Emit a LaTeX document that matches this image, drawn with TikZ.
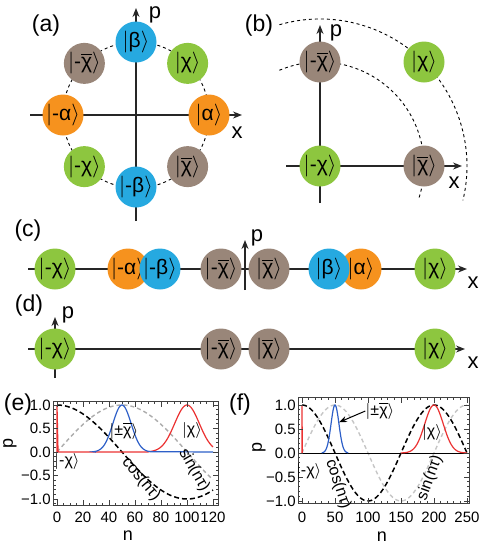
\documentclass[tikz,border=0pt]{standalone}
\usepackage{fontspec}
\setmainfont{Liberation Sans}
\usetikzlibrary{arrows.meta}

\definecolor{qbleu}{RGB}{38,169,224}
\definecolor{qorange}{RGB}{246,146,30}
\definecolor{qvert}{RGB}{141,198,63}
\definecolor{qbrun}{RGB}{153,134,121}
\definecolor{crouge}{RGB}{235,50,50}
\definecolor{cbleu}{RGB}{45,95,200}

\newcommand{\ket}[1]{\ensuremath{|}#1\ensuremath{\rangle}}
\newcommand{\chib}{\ensuremath{\overline{\mbox{χ}}}}

\tikzset{
  etat/.style={circle, minimum size=20.5pt, inner sep=0pt, font=\fontsize{10.5}{12}\selectfont},
  axe/.style={line width=0.7pt, black!85, -{Stealth[length=4.5pt,width=3.5pt]}},
  pointille/.style={line width=0.45pt, dash pattern=on 1.5pt off 1.5pt},
  lettre/.style={font=\fontsize{11.5}{13}\selectfont},
  etiq/.style={font=\fontsize{11}{13}\selectfont},
  titre axe/.style={font=\fontsize{9}{10}\selectfont, inner sep=1pt},
  graduation/.style={font=\fontsize{7.5}{9}\selectfont, inner sep=1pt},
  legende/.style={font=\fontsize{8}{9}\selectfont, inner sep=0pt},
  cadre/.style={line width=0.4pt, black!75},
  tiretnoir/.style={line width=0.75pt, black, dash pattern=on 2.5pt off 1.5pt},
  tiretgris/.style={line width=0.7pt, gray!65, dash pattern=on 2pt off 1.5pt},
}

\begin{document}
\begin{tikzpicture}[x=0.5pt, y=0.5pt]
    \useasboundingbox (0,0) rectangle (498,-547);

    % (a) Cercle des etats
    \coordinate (Oa) at (136,-115);
    \draw[pointille] (Oa) circle[radius=73];
    \draw[axe] (30,-115) -- (242,-115);
    \draw[axe] (136,-221) -- (136,-8);
    \node[etat, fill=qbleu] (a-beta) at ([shift={(90:73)}]Oa) {\ket{β}};
    \node[etat, fill=qvert] (a-chi) at ([shift={(45:73)}]Oa) {\ket{χ}};
    \node[etat, fill=qorange] (a-alpha) at ([shift={(0:73)}]Oa) {\ket{α}};
    \node[etat, fill=qbrun] (a-chib) at ([shift={(-45:73)}]Oa) {\ket{\chib}};
    \node[etat, fill=qbleu] (a-mbeta) at ([shift={(-90:72)}]Oa) {\ket{-β}};
    \node[etat, fill=qvert] (a-mchi) at ([shift={(-135:73)}]Oa) {\ket{-χ}};
    \node[etat, fill=qorange] (a-malpha) at ([shift={(180:73)}]Oa) {\ket{-α}};
    \node[etat, fill=qbrun] (a-mchib) at ([shift={(135:73)}]Oa) {\ket{-\chib}};
    \node[lettre] (a-lab) at (46,-26) {(a)};
    \node[etiq] (a-p) at (155,-15) {p};
    \node[etiq] (a-x) at (237,-133) {x};

    % (b) Quart de plan
    \coordinate (Ob) at (320,-166);
    \draw[pointille] ([shift={(113:104)}]Ob) arc[start angle=113, end angle=-19, radius=104];
    \draw[pointille] ([shift={(106:147)}]Ob) arc[start angle=106, end angle=-13.5, radius=147];
    \draw[axe] (286,-166) -- (462,-166);
    \draw[axe] (320,-203) -- (320,-25);
    \node[etat, fill=qvert] (b-mchi) at (Ob) {\ket{-χ}};
    \node[etat, fill=qbrun] (b-chib) at (424,-166) {\ket{\chib}};
    \node[etat, fill=qbrun] (b-mchib) at (320,-62) {\ket{-\chib}};
    \node[etat, fill=qvert] (b-chi) at (424,-62) {\ket{χ}};
    \node[lettre] (b-lab) at (259,-26) {(b)};
    \node[etiq] (b-p) at (336,-33) {p};
    \node[etiq] (b-x) at (454,-183) {x};

    % (c) Projection sur x
    \draw[axe] (28,-269) -- (467,-269);
    \draw[axe] (245,-290) -- (245,-240);
    \node[etat, fill=qvert] (c-mchi) at (55,-269) {\ket{-χ}};
    \node[etat, fill=qorange] (c-malpha) at (128,-269) {\ket{-α}};
    \node[etat, fill=qbleu] (c-mbeta) at (160,-269) {\ket{-β}};
    \node[etat, fill=qbrun] (c-mchib) at (221,-269) {\ket{-\chib}};
    \node[etat, fill=qbrun] (c-chib) at (269,-269) {\ket{\chib}};
    \node[etat, fill=qorange] (c-alpha) at (361,-269) {\ket{α}};
    \node[etat, fill=qbleu] (c-beta) at (329,-269) {\ket{β}};
    \node[etat, fill=qvert] (c-chi) at (435,-269) {\ket{χ}};
    \node[lettre] (c-lab) at (28,-231) {(c)};
    \node[etiq] (c-p) at (257,-238) {p};
    \node[etiq] (c-x) at (473,-283) {x};

    % (d) Etats restants
    \draw[axe] (28,-349) -- (465,-349);
    \draw[axe] (55,-378) -- (55,-317);
    \node[etat, fill=qvert] (d-mchi) at (55,-349) {\ket{-χ}};
    \node[etat, fill=qbrun] (d-mchib) at (221,-349) {\ket{-\chib}};
    \node[etat, fill=qbrun] (d-chib) at (269,-349) {\ket{\chib}};
    \node[etat, fill=qvert] (d-chi) at (435,-349) {\ket{χ}};
    \node[lettre] (d-lab) at (29,-306) {(d)};
    \node[etiq] (d-p) at (68,-315) {p};
    \node[etiq] (d-x) at (473,-363) {x};

    % (e) Courbes, n de 0 a 120
    \begin{scope}[shift={(57,-452)}, x=0.65pt, y=23.5pt]
        \draw[tiretgris] plot[domain=0:120, samples=100] (\x,{sin(1.8*\x)});
        \draw[tiretnoir] plot[domain=0:120, samples=100] (\x,{cos(1.8*\x)});
        \draw[crouge, line width=0.6pt] (0,0) -- (0,1) -- (0.8,0) -- (70,0)
            -- plot[domain=70:120, samples=60] (\x,{exp(-(\x-100)*(\x-100)/180)});
        \draw[cbleu, line width=0.6pt] (30,0)
            -- plot[domain=28:72, samples=60] (\x,{exp(-(\x-50)*(\x-50)/98)}) -- (120,0);
        \draw[cadre] (-3,-1.13) rectangle (124,1.07);
        \foreach \n in {0,5,...,120} {
            \draw[cadre] (\n,-1.13) -- ++(0pt,1.2pt);
            \draw[cadre] (\n,1.07) -- ++(0pt,-1.2pt);
        }
        \foreach \n in {0,20,...,120} {
            \draw[cadre] (\n,-1.13) -- ++(0pt,2.5pt);
            \draw[cadre] (\n,1.07) -- ++(0pt,-2.5pt);
            \node[graduation] (e-x\n) at (\n,-1.38) {\n};
        }
        \foreach \v in {-1.1,-1.0,...,1.05} {
            \draw[cadre] (-3,\v) -- ++(1.2pt,0pt);
            \draw[cadre] (124,\v) -- ++(-1.2pt,0pt);
        }
        \foreach \v/\t [count=\i] in {1/1.0, 0.5/0.5, 0/0.0, -0.5/−0.5, -1/−1.0} {
            \draw[cadre] (-3,\v) -- ++(2.5pt,0pt);
            \draw[cadre] (124,\v) -- ++(-2.5pt,0pt);
            \node[graduation, anchor=east] (e-y\i) at (-3,\v) {\t};
        }
    \end{scope}
    \node[lettre] (e-lab) at (18,-405) {(e)};
    \node[titre axe] (e-n) at (128,-536) {n};
    \node[titre axe, rotate=90] (e-p) at (10,-443) {p};
    \node[legende] (e-pm) at (124,-431) {\ket{±\chib}};
    \node[legende] (e-chi) at (192,-430) {\ket{χ}};
    \node[legende] (e-mchi) at (67,-461) {\ket{-χ}};
    \node[legende, rotate=-50] (e-cos) at (141,-479) {cos(nτ)};
    \node[legende, rotate=-60] (e-sin) at (194,-470) {sin(nτ)};

    % (f) Courbes, n de 0 a 250
    \begin{scope}[shift={(302,-453)}, x=0.33pt, y=24pt]
        \draw[tiretgris, gray!45] plot[domain=0:250, samples=150] (\x,{sin(1.8*\x)});
        \draw[tiretnoir] plot[domain=0:250, samples=150] (\x,{cos(1.8*\x)});
        \draw[black, line width=0.5pt] (-6,0) -- (253,0);
        \draw[crouge, line width=0.6pt] (0,0) -- (0,1) -- (0.5,0);
        \draw[crouge, line width=0.6pt] plot[domain=150:250, samples=80] (\x,{exp(-(\x-200)*(\x-200)/392)});
        \draw[cbleu, line width=0.6pt] plot[domain=30:70, samples=60] (\x,{exp(-(\x-50)*(\x-50)/72)});
        \coordinate (f-pic) at (56,0.64);
        \draw[cadre] (-6,-1.04) rectangle (253,1.15);
        \foreach \n in {0,10,...,250} {
            \draw[cadre] (\n,-1.04) -- ++(0pt,1.2pt);
            \draw[cadre] (\n,1.15) -- ++(0pt,-1.2pt);
        }
        \foreach \n in {0,50,...,250} {
            \draw[cadre] (\n,-1.04) -- ++(0pt,2.5pt);
            \draw[cadre] (\n,1.15) -- ++(0pt,-2.5pt);
            \node[graduation] (f-x\n) at (\n,-1.33) {\n};
        }
        \foreach \v in {-1.0,-0.9,...,1.05} {
            \draw[cadre] (-6,\v) -- ++(1.2pt,0pt);
            \draw[cadre] (253,\v) -- ++(-1.2pt,0pt);
        }
        \foreach \v/\t [count=\i] in {1/1.0, 0.5/0.5, 0/0.0, -0.5/−0.5, -1/−1.0} {
            \draw[cadre] (-6,\v) -- ++(2.5pt,0pt);
            \draw[cadre] (253,\v) -- ++(-2.5pt,0pt);
            \node[graduation, anchor=east] (f-y\i) at (-6,\v) {\t};
        }
    \end{scope}
    \node[lettre] (f-lab) at (240,-405) {(f)};
    \node[titre axe] (f-n) at (382,-537) {n};
    \node[titre axe, rotate=90] (f-p) at (259,-447) {p};
    \node[legende] (f-pm) at (380,-411) {\ket{±\chib}};
    \draw[line width=0.5pt, -{Stealth[length=4pt,width=3pt]}] (f-pm.west) -- (f-pic);
    \node[legende] (f-chi) at (432,-432) {\ket{χ}};
    \node[legende, anchor=west] (f-mchi) at (295.8,-471) {\ket{-χ}};
    \node[legende, rotate=-72] (f-cos) at (338,-484) {cos(nτ)};
    \node[legende, rotate=70] (f-sin) at (430,-478) {sin(nτ)};

\end{tikzpicture}
\end{document}
